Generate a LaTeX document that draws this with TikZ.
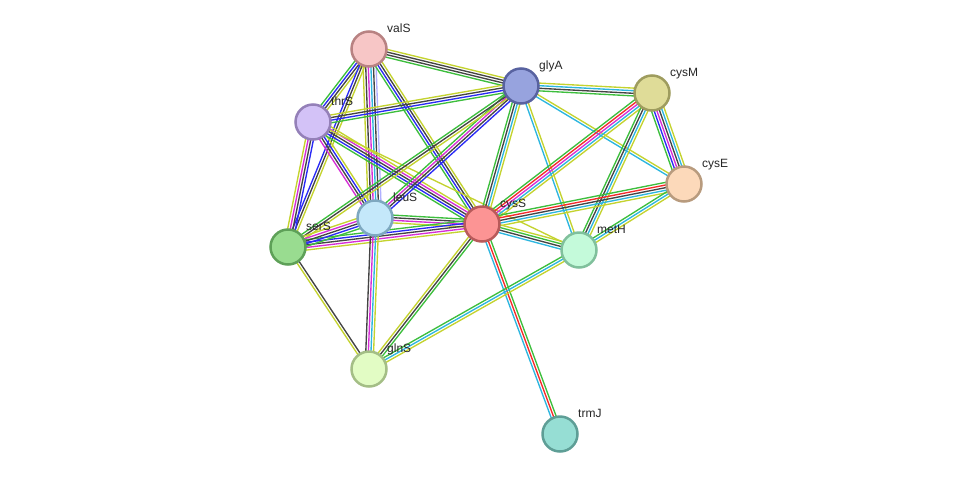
\documentclass[tikz,border=0pt]{standalone}
\usepackage{fontspec}
\setmainfont{Liberation Sans}
\usetikzlibrary{calc,backgrounds}
\definecolor{G}{HTML}{3DBE3D}
\definecolor{Y}{HTML}{C4D32F}
\definecolor{K}{HTML}{444444}
\definecolor{B}{HTML}{2A2AF5}
\definecolor{M}{HTML}{D62ED6}
\definecolor{C}{HTML}{2DB6DF}
\definecolor{R}{HTML}{F52A2A}
\definecolor{L}{HTML}{B0B0FF}
\definecolor{valSf}{HTML}{F7C6C6}\definecolor{valSd}{HTML}{B88282}
\definecolor{glyAf}{HTML}{97A3DE}\definecolor{glyAd}{HTML}{5862A0}
\definecolor{cysMf}{HTML}{DFDC98}\definecolor{cysMd}{HTML}{9E9C5E}
\definecolor{thrSf}{HTML}{D3C2F7}\definecolor{thrSd}{HTML}{9480B8}
\definecolor{cysEf}{HTML}{FCD9BA}\definecolor{cysEd}{HTML}{B89B7E}
\definecolor{leuSf}{HTML}{C4E8FA}\definecolor{leuSd}{HTML}{7EA8C0}
\definecolor{cysSf}{HTML}{FC9494}\definecolor{cysSd}{HTML}{B85A5A}
\definecolor{serSf}{HTML}{99DC90}\definecolor{serSd}{HTML}{5EA058}
\definecolor{metHf}{HTML}{C4FADA}\definecolor{metHd}{HTML}{80C09C}
\definecolor{glnSf}{HTML}{E2FCC4}\definecolor{glnSd}{HTML}{A4BE86}
\definecolor{trmJf}{HTML}{96DED4}\definecolor{trmJd}{HTML}{5E9E96}
\tikzset{
  gene/.style={circle, minimum size=35pt, line width=2.5pt, inner sep=0pt, draw=#1d, fill=#1f},
  lbl/.style={anchor=base west, font=\fontsize{12}{12}\selectfont, inner sep=0pt, text=black!85},
  link/.style={line width=1.35pt}
}
\newcommand\sedge[3]{%
  \def\sedgeN{0}%
  \foreach \c in {#3}{\pgfmathtruncatemacro\sedgeT{\sedgeN+1}\global\let\sedgeN\sedgeT}%
  \foreach \c [count=\i] in {#3}{%
    \pgfmathsetmacro\sedgeO{(\i-(\sedgeN+1)/2)*2.6}%
    \draw[link,\c] ($(#1.center)!\sedgeO pt!90:(#2.center)$) -- ($(#2.center)!\sedgeO pt!-90:(#1.center)$);}}
\begin{document}
\begin{tikzpicture}[x=1pt,y=-1pt]
\useasboundingbox (0,0) rectangle (976,480);
\foreach \n/\x/\y in {valS/369/49, glyA/521/86, cysM/652/93, thrS/313/122, cysE/684/184, leuS/375/218, cysS/482/224, serS/288/247, metH/579/250, glnS/369/369, trmJ/560/434}{
  \node[gene=\n] (\n) at (\x,\y) {};
}
\begin{pgfonlayer}{background}
\sedge{valS}{glyA}{G,K,K,Y}
\sedge{valS}{thrS}{G,B,K,Y}
\sedge{valS}{serS}{B,K,Y}
\sedge{valS}{leuS}{Y,K,M,C,K,L}
\sedge{valS}{cysS}{G,B,K,Y}
\sedge{thrS}{glyA}{G,B,K,Y}
\sedge{thrS}{serS}{Y,M,K,B}
\sedge{thrS}{leuS}{M,K,B,Y}
\sedge{thrS}{cysS}{G,B,K,M,Y}
\sedge{thrS}{metH}{Y}
\sedge{glyA}{cysM}{G,K,C,Y}
\sedge{glyA}{cysS}{G,K,C,Y}
\sedge{glyA}{metH}{C,Y}
\sedge{glyA}{cysE}{C,Y}
\sedge{glyA}{leuS}{G,M,K,B}
\sedge{glyA}{serS}{G,K,Y}
\sedge{cysM}{cysS}{G,R,M,C,Y}
\sedge{cysM}{metH}{G,K,C,Y}
\sedge{cysM}{cysE}{G,B,M,K,C,Y}
\sedge{cysE}{cysS}{G,R,K,C,Y}
\sedge{cysE}{metH}{G,C,Y}
\sedge{cysS}{metH}{C,K,G,Y}
\sedge{cysS}{trmJ}{C,R,G}
\sedge{cysS}{glnS}{Y,K,G}
\sedge{leuS}{cysS}{Y,M,K,G}
\sedge{serS}{cysS}{Y,M,K,B,G}
\sedge{serS}{leuS}{G,B,K,M,Y}
\sedge{leuS}{glnS}{K,M,C,Y}
\sedge{serS}{glnS}{Y,K}
\sedge{glnS}{metH}{Y,C,G}
\end{pgfonlayer}
\foreach \n in {valS, glyA, cysM, thrS, cysE, leuS, cysS, serS, metH, glnS, trmJ}{
  \node[lbl] (\n-l) at ($(\n)+(18,-17)$) {\n};
}
\end{tikzpicture}
\end{document}
